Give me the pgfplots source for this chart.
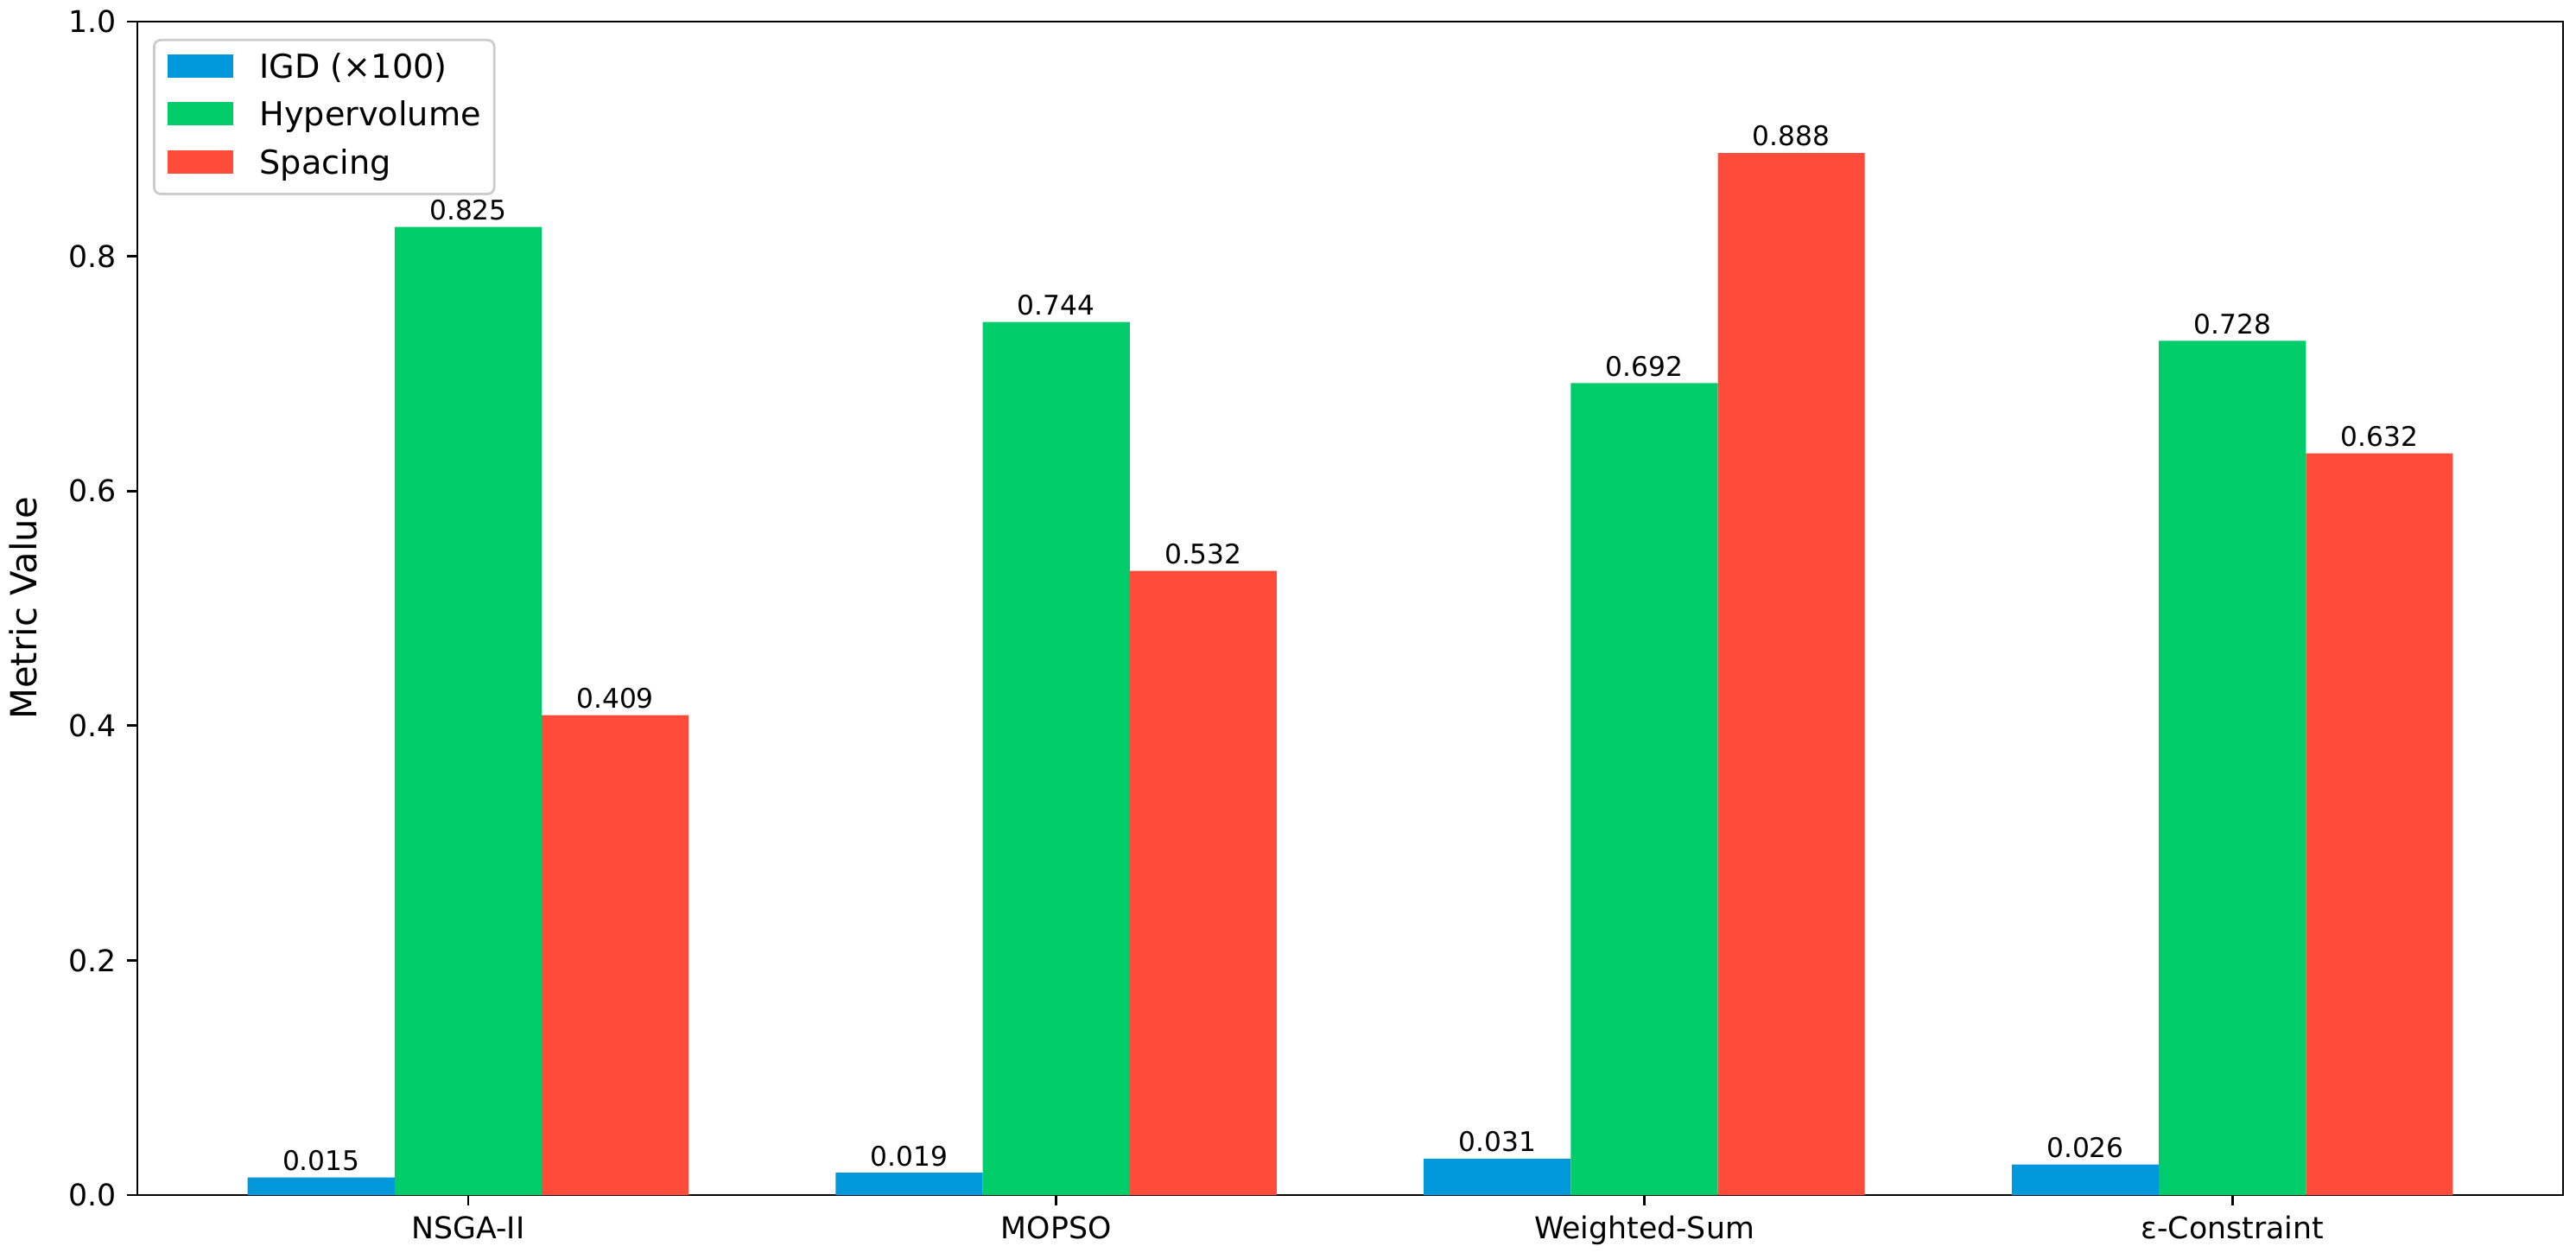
\documentclass[border=0pt]{standalone}
\usepackage{fontspec}
\setmainfont{DejaVu Sans}
\usepackage{pgfplots}
\pgfplotsset{compat=1.18}
\definecolor{cIGD}{RGB}{0,152,219}
\definecolor{cHV}{RGB}{0,204,106}
\definecolor{cSP}{RGB}{255,76,58}
\definecolor{legframe}{RGB}{204,204,204}

\begin{document}
\begin{tikzpicture}
\useasboundingbox (-45.8pt,-21.3pt) rectangle (813pt,398.3pt);
\begin{axis}[
  at={(0,0)}, anchor=south west,
  scale only axis, width=808.7pt, height=391.1pt,
  xmin=-0.5625, xmax=3.5625, ymin=0, ymax=1,
  ybar, bar width=0.25,
  /pgf/number format/assume math mode=true,
  xtick={0,1,2,3},
  xticklabels={NSGA-II,MOPSO,Weighted-Sum,ε-Constraint},
  ytick={0,0.2,0.4,0.6,0.8,1.0},
  yticklabel style={/pgf/number format/.cd, fixed, fixed zerofill, precision=1},
  ticklabel style={font=\fontsize{10}{12}\selectfont},
  xtick pos=bottom, ytick pos=left,
  tick align=outside,
  major tick length=3.5pt,
  every tick/.style={black, line width=0.8pt},
  axis line style={line width=0.8pt},
  ylabel={Metric Value},
  ylabel style={font=\fontsize{12}{14}\selectfont, at={(axis description cs:-0.047,0.5)}, anchor=center},
  point meta=y,
  nodes near coords={\pgfmathprintnumber[fixed, fixed zerofill, precision=3]{\pgfplotspointmeta}},
  every node near coord/.append style={font=\fontsize{9}{11}\selectfont, anchor=south, inner sep=2pt, black},
  legend style={at={(axis description cs:0.0064,0.9853)}, anchor=north west,
    draw=legframe, line width=0.8pt, rounded corners=2.2pt, fill=white,
    font=\fontsize{11}{13}\selectfont,
    inner xsep=4.4pt, inner ysep=4.4pt, row sep=5.5pt,
    nodes={inner sep=0pt, text height=8.2pt, text depth=2.3pt},
    /tikz/every odd column/.append style={column sep=8.8pt}},
  legend cell align=left,
]
\addplot[draw=none, fill=cIGD, bar shift=-0.25,
  legend image code/.code={\fill[cIGD, sharp corners] (0pt,-2.8pt) rectangle (22pt,4.9pt);}]
  coordinates {(0,0.015) (1,0.019) (2,0.031) (3,0.026)};
\addplot[draw=none, fill=cHV, bar shift=0,
  legend image code/.code={\fill[cHV, sharp corners] (0pt,-2.8pt) rectangle (22pt,4.9pt);}]
  coordinates {(0,0.825) (1,0.744) (2,0.692) (3,0.728)};
\addplot[draw=none, fill=cSP, bar shift=0.25,
  legend image code/.code={\fill[cSP, sharp corners] (0pt,-2.8pt) rectangle (22pt,4.9pt);}]
  coordinates {(0,0.409) (1,0.532) (2,0.888) (3,0.632)};
\legend{IGD (×100),Hypervolume,Spacing}
\end{axis}
\end{tikzpicture}
\end{document}
